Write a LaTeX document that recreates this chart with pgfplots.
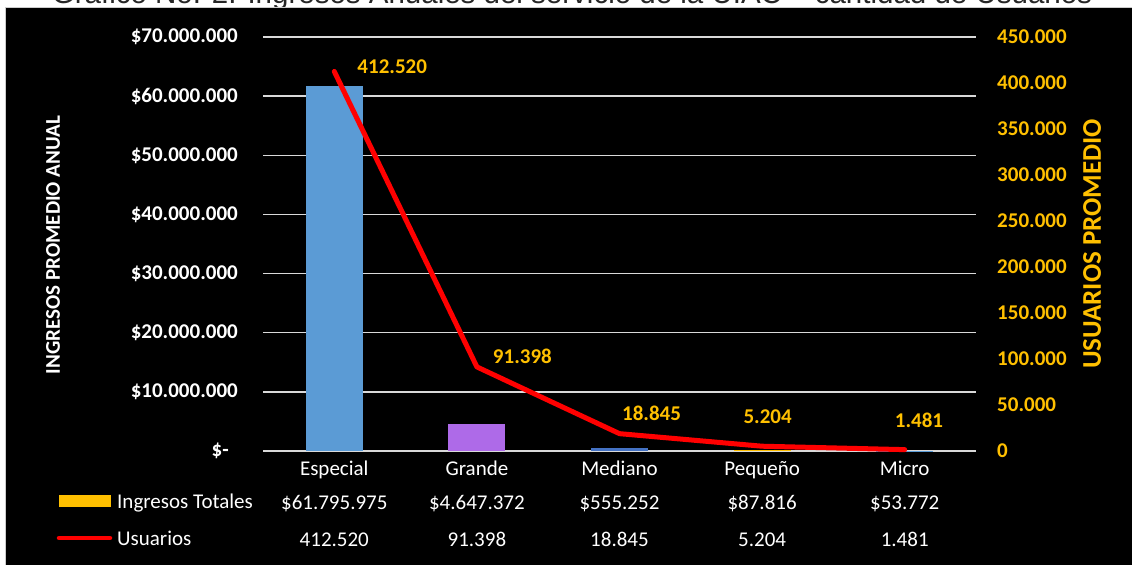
\documentclass[border=0pt]{standalone}
\usepackage{pgfplots}
\pgfplotsset{compat=1.18}
\usepackage{fontspec}
\setmainfont{Carlito}
\newfontfamily\titlefont{Liberation Sans}
\definecolor{gold}{RGB}{255,192,0}
\definecolor{barblue}{RGB}{91,155,213}
\definecolor{barpurple}{RGB}{174,106,232}
\definecolor{bardblue}{RGB}{68,114,196}
\definecolor{gridgray}{RGB}{217,217,217}
\begin{document}
\begin{tikzpicture}[x=1pt,y=1pt]
\fill[white] (0,0) rectangle (1132,565);
\node[anchor=base, inner sep=0pt, text=black!85] at (572,561.5) {\resizebox{1040pt}{!}{\titlefont Gráfico No. 2. Ingresos Anuales del servicio de la UIAC – cantidad de Usuarios}};
\fill[black] (5,0) rectangle (1132,557);
\draw[gray!40, line width=1pt] (5,0) -- (5,557) -- (1132,557);

\begin{axis}[
  at={(263pt,114pt)}, anchor=south west, scale only axis,
  width=713pt, height=414pt,
  xmin=-0.5, xmax=4.5, ymin=0, ymax=70000000,
  axis line style={draw=none}, major tick style={draw=none},
  scaled y ticks=false,
  ytick={0,10000000,20000000,30000000,40000000,50000000,60000000,70000000},
  yticklabels={\$-\hspace*{9pt},\$10.000.000,\$20.000.000,\$30.000.000,\$40.000.000,\$50.000.000,\$60.000.000,\$70.000.000},
  ymajorgrids, grid style={gridgray, line width=1.5pt},
  yticklabel style={font=\bfseries\fontsize{21}{25}\selectfont, text=white, anchor=east, inner sep=0pt, xshift=-25pt},
  xtick={0,1,2,3,4},
  xticklabels={
    {Especial\\\$61.795.975\\[3pt]412.520},
    {Grande\\\$4.647.372\\[3pt]91.398},
    {Mediano\\\$555.252\\[3pt]18.845},
    {Pequeño\\\$87.816\\[3pt]5.204},
    {Micro\\\$53.772\\[3pt]1.481}},
  xticklabel style={font=\fontsize{21}{34}\selectfont, text=white, align=center, anchor=north, inner sep=0pt, yshift=-10pt},
  clip=false,
]
\addplot[ybar, bar width=0.4, bar shift=0pt, fill=barblue, draw=none] coordinates {(0,61795975)};
\addplot[ybar, bar width=0.4, bar shift=0pt, fill=barpurple, draw=none] coordinates {(1,4647372)};
\addplot[ybar, bar width=0.4, bar shift=0pt, fill=bardblue, draw=none] coordinates {(2,555252)};
\addplot[ybar, bar width=0.4, bar shift=0pt, fill=gold, draw=none] coordinates {(3,87816)};
\addplot[ybar, bar width=0.4, bar shift=0pt, fill=barblue, draw=none] coordinates {(4,53772)};
\end{axis}

\begin{axis}[
  at={(263pt,114pt)}, anchor=south west, scale only axis,
  width=713pt, height=414pt,
  xmin=-0.5, xmax=4.5, ymin=0, ymax=450000,
  axis y line*=right, hide x axis,
  axis line style={draw=none}, major tick style={draw=none},
  scaled y ticks=false,
  ytick={0,50000,100000,150000,200000,250000,300000,350000,400000,450000},
  yticklabels={0,50.000,100.000,150.000,200.000,250.000,300.000,350.000,400.000,450.000},
  yticklabel style={font=\bfseries\fontsize{21}{25}\selectfont, text=gold, anchor=west, inner sep=0pt, xshift=21pt},
  clip=false,
]
\addplot[red, line width=5pt, line join=round, line cap=round] coordinates {(0,412520)(1,91398)(2,18845)(3,5204)(4,1481)};
\begin{scope}[every node/.style={font=\bfseries\fontsize{21}{25}\selectfont, text=gold, inner sep=0pt}]
\node at (axis cs:0.406,417400) {412.520};
\node at (axis cs:1.319,103260) {91.398};
\node at (axis cs:2.225,41300) {18.845};
\node at (axis cs:3.039,36960) {5.204};
\node at (axis cs:4.100,33700) {1.481};
\end{scope}
\end{axis}

\node[rotate=90, text=white, font=\bfseries\fontsize{21}{25}\selectfont, inner sep=0pt] at (53,320) {INGRESOS PROMEDIO ANUAL};
\node[rotate=90, text=gold, font=\bfseries\fontsize{27}{32}\selectfont, inner sep=0pt] at (1092,321) {USUARIOS PROMEDIO};

\fill[gold] (59,58) rectangle (111,70);
\node[anchor=base west, inner sep=0pt, text=white, font=\fontsize{21}{25}\selectfont] at (117,57) {Ingresos Totales};
\draw[red, line width=4.5pt, line cap=round] (59,27) -- (110,27);
\node[anchor=base west, inner sep=0pt, text=white, font=\fontsize{21}{25}\selectfont] at (117,20) {Usuarios};

\pgfresetboundingbox
\useasboundingbox (0,0) rectangle (1132,565);
\end{tikzpicture}
\end{document}
